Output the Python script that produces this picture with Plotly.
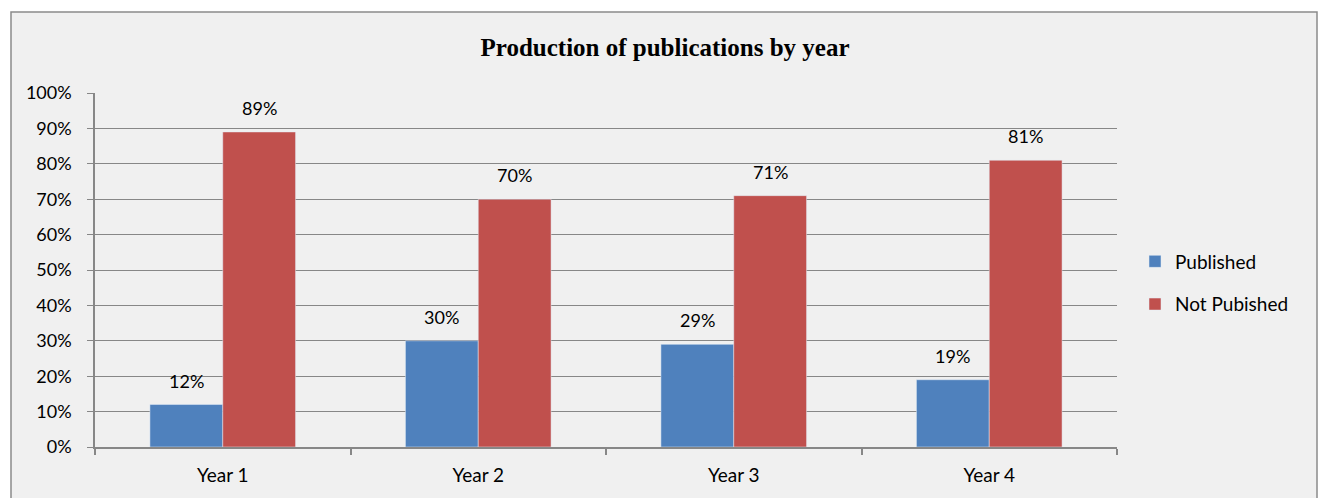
import plotly.graph_objects as go

years = ["Year 1", "Year 2", "Year 3", "Year 4"]
published = [12, 30, 29, 19]
not_published = [89, 70, 71, 81]
y_ticks = [0, 10, 20, 30, 40, 50, 60, 70, 80, 90, 100]

BLUE = "#4f81bd"
RED = "#c0504d"
GRID = "#878787"
FONT = "Lato, Open Sans, sans-serif"
FS = 18

fig = go.Figure()
fig.add_trace(go.Bar(x=years, y=published, name="Published", marker_color=BLUE,
                     legendgroup="a"))
fig.add_trace(go.Bar(x=years, y=not_published, name="Not Pubished", marker_color=RED,
                     legendgroup="b"))

L, R, T, B = 95, 203, 93, 51
W, H = 1320, 498
pw, ph = W - L - R, H - T - B

def px_x(x):
    return (x - L) / pw

def px_y(y):
    return (H - B - y) / ph

# value labels sitting above each bar, offset to the bar's slot within the group
half_bar = pw / len(years) * (1 - 0.43) / 4
labels = []
for series, dx in ((published, -half_bar), (not_published, half_bar)):
    for cat, v in zip(years, series):
        labels.append(dict(
            x=cat, y=v, xref="x", yref="y", text=f"{v}%", showarrow=False,
            xshift=dx, yshift=24, yanchor="middle",
            font=dict(family=FONT, size=FS, color="#000000"),
        ))

fig.update_layout(
    width=W, height=H,
    margin=dict(l=L, r=R, t=T, b=B),
    paper_bgcolor="#ffffff",
    plot_bgcolor="rgba(0,0,0,0)",
    barmode="group", bargap=0.43, bargroupgap=0,
    font=dict(family=FONT, size=FS, color="#000000"),
    title=dict(
        text="<b>Production of publications by year</b>",
        font=dict(family="Liberation Serif, DejaVu Serif, serif", size=25, color="#000000"),
        x=px_x(665), xref="paper", xanchor="center",
        y=1 - 47 / H, yanchor="middle",
    ),
    legend=dict(
        x=px_x(1135), y=px_y(283), xanchor="left", yanchor="middle",
        font=dict(family=FONT, size=19, color="#000000"),
        tracegroupgap=15, itemwidth=30, bgcolor="rgba(0,0,0,0)",
    ),
    annotations=labels,
    shapes=[dict(
        type="rect", xref="paper", yref="paper",
        x0=px_x(11), x1=px_x(1317), y0=px_y(520), y1=px_y(12),
        fillcolor="#f0f0f0", line=dict(color="#8a8a8a", width=1.5),
        layer="below",
    )],
)

fig.update_yaxes(
    range=[0, 100], tickvals=y_ticks, ticktext=[f"{v}%" for v in y_ticks],
    showgrid=True, gridcolor=GRID, gridwidth=1,
    showline=True, linecolor=GRID, linewidth=1.5,
    ticks="outside", ticklen=6, tickcolor=GRID, tickwidth=1,
    ticklabelstandoff=12,
    zeroline=False, tickfont=dict(size=FS),
)
fig.update_xaxes(
    showline=True, linecolor=GRID, linewidth=1.5,
    ticks="outside", tickson="boundaries", ticklen=6, tickcolor=GRID, tickwidth=1.5,
    ticklabelstandoff=10,
    showgrid=False, tickfont=dict(size=19),
)

fig.write_html("out.html")
